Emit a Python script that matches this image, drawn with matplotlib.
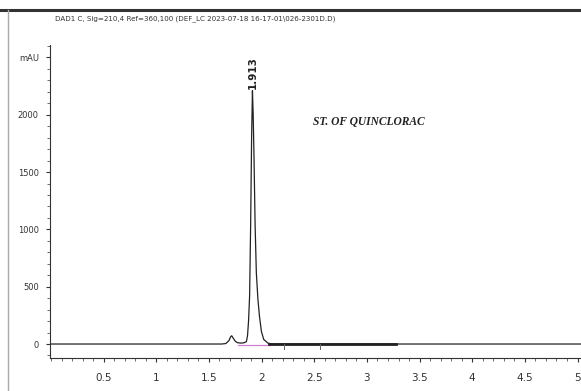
import matplotlib
matplotlib.use("Agg")
import matplotlib.pyplot as plt
from matplotlib.lines import Line2D
from matplotlib.ticker import MultipleLocator

# chromatogram trace (min, mAU)
time = [0.0, 1.62, 1.66, 1.69, 1.705, 1.716, 1.73, 1.75, 1.77, 1.80, 1.83, 1.855,
        1.866, 1.876, 1.886, 1.896, 1.905, 1.913, 1.920, 1.928, 1.938, 1.950,
        1.965, 1.980, 1.998, 2.02, 2.06, 2.10, 5.03]
signal = [0, 0, 4, 30, 62, 72, 52, 24, 12, 8, 10, 20,
          70, 200, 420, 1050, 1800, 2210, 2000, 1620, 1050, 620,
          390, 240, 110, 40, 8, 0, 0]

# pink integration baseline under main peak
base_t = [1.78, 2.08]
base_y = [-8, -8]
# thick baseline marker segment
mark_t = [2.07, 3.28]
mark_y = [0, 0]
# small event ticks
event_t = [2.21, 2.55]

peak_rt = 1.913
peak_label = "1.913"

title = "DAD1 C, Sig=210,4 Ref=360,100 (DEF_LC 2023-07-18 16-17-01\\026-2301D.D)"
note = "ST. OF QUINCLORAC"

x_ticks = [0.5, 1, 1.5, 2, 2.5, 3, 3.5, 4, 4.5, 5]
x_labels = ["0.5", "1", "1.5", "2", "2.5", "3", "3.5", "4", "4.5", "5"]
y_ticks = [0, 500, 1000, 1500, 2000, 2500]
y_labels = ["0", "500", "1000", "1500", "2000", "mAU"]

narrow = ["Liberation Sans Narrow", "DejaVu Sans"]

fig = plt.figure(figsize=(5.81, 3.91), dpi=100)
fig.patch.set_facecolor("white")

# outer frame bits
fig.add_artist(Line2D([0, 1], [1 - 10 / 391, 1 - 10 / 391], color="#333333", lw=2.2))
fig.add_artist(Line2D([8 / 581, 8 / 581], [0, 1 - 10 / 391], color="#aaaaaa", lw=1.0))

fig.text(55 / 581, 1 - 19 / 391, title, fontsize=5.1, family=narrow,
         color="#333333", va="center", ha="left")

ax = fig.add_axes([50 / 581, 33 / 391, 531 / 581, 313 / 391])
ax.set_xlim(-0.0095, 5.033)
ax.set_ylim(-122, 2609)

ax.plot(time, signal, color="#222222", lw=0.9)
ax.plot(base_t, base_y, color="#d080d0", lw=0.9)
ax.plot(mark_t, mark_y, color="#222222", lw=2.0)
for t in event_t:
    ax.plot([t, t], [0, -40], color="#666666", lw=0.7)

ax.text(peak_rt, 2225, peak_label, rotation=90, fontsize=7.5, family=narrow,
        ha="center", va="bottom", color="#222222", fontweight="bold")
ax.text(3.02, 1937, note, fontsize=8.3, family="Liberation Serif",
        fontweight="bold", fontstyle="italic", ha="center", va="center", color="#222222")

for s in ["top", "right"]:
    ax.spines[s].set_visible(False)
for s in ["left", "bottom"]:
    ax.spines[s].set_color("#333333")
    ax.spines[s].set_linewidth(0.8)

ax.set_xticks(x_ticks)
ax.set_xticklabels(x_labels, family=narrow, fontsize=7.5, color="#333333")
ax.xaxis.set_minor_locator(MultipleLocator(0.1))
ax.set_yticks(y_ticks)
ax.set_yticklabels(y_labels, family=narrow, fontsize=6, color="#333333")
ax.yaxis.set_minor_locator(MultipleLocator(100))
ax.tick_params(axis="both", which="major", length=3, width=0.8, color="#333333", pad=5)
ax.tick_params(axis="x", which="major", pad=8)
ax.tick_params(axis="both", which="minor", length=2, width=0.6, color="#555555")

fig.savefig("out.png", dpi=100)
